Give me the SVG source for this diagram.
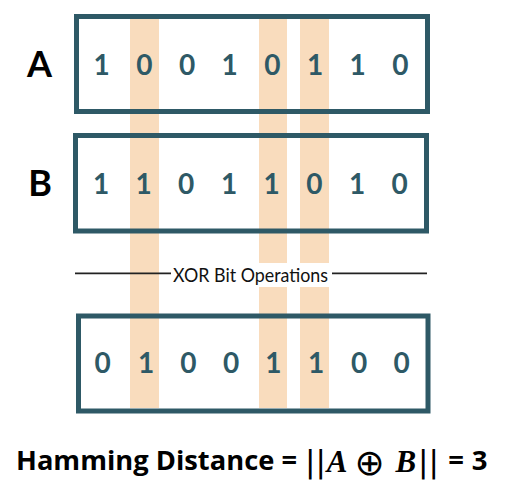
<svg xmlns="http://www.w3.org/2000/svg" width="507" height="487" viewBox="0 0 507 487">
<style>
.box{fill:none;stroke:#2E5966;stroke-width:5}
.bar{fill:#F9DCBD}
.bit{font-family:Lato,"Open Sans",sans-serif;font-weight:bold;font-size:28px;fill:#2E5966;text-anchor:middle}
.lbl{font-family:Lato,"Liberation Sans",sans-serif;font-weight:bold;font-size:36px;fill:#000;text-anchor:middle}
.sans{font-family:"Open Sans",Lato,sans-serif;font-weight:bold;font-size:27.5px;fill:#000;text-anchor:middle}
.math{font-family:"Liberation Serif","DejaVu Serif",serif;font-weight:bold;font-style:italic;font-size:31px;fill:#000;text-anchor:middle}
.sym{font-family:"DejaVu Sans",sans-serif;fill:#000;text-anchor:middle}
</style>
<rect width="507" height="487" fill="#fff"/>
<g id="highlights">
<rect class="bar" x="130" y="19" width="29" height="389"/>
<rect class="bar" x="259" y="19" width="28" height="389"/>
<rect class="bar" x="300" y="19" width="29" height="389"/>
</g>
<g id="connectors">
<line x1="75" y1="273.3" x2="427" y2="273.3" stroke="#222" stroke-width="1.8"/>
<rect x="171" y="263" width="161" height="24" fill="#fff"/>
<text x="250.5" y="281.5" font-family="Lato,'Open Sans',sans-serif" font-size="19" fill="#111" text-anchor="middle" textLength="155" lengthAdjust="spacingAndGlyphs">XOR Bit Operations</text>
</g>
<g id="node-A">
<text class="lbl" x="39.5" y="77.3">A</text>
<rect class="box" x="76.5" y="16.5" width="351" height="95"/>
<text class="bit" y="74.5"><tspan x="101.7">1</tspan><tspan x="144.3">0</tspan><tspan x="187">0</tspan><tspan x="229.7">1</tspan><tspan x="272.3">0</tspan><tspan x="315">1</tspan><tspan x="357.7">1</tspan><tspan x="400.3">0</tspan></text>
</g>
<g id="node-B">
<text class="lbl" x="40" y="196">B</text>
<rect class="box" x="75.5" y="135.5" width="351" height="95.5"/>
<text class="bit" y="194"><tspan x="101">1</tspan><tspan x="143.5">1</tspan><tspan x="186">0</tspan><tspan x="229">1</tspan><tspan x="271.7">1</tspan><tspan x="314.3">0</tspan><tspan x="357">1</tspan><tspan x="399.7">0</tspan></text>
</g>
<g id="node-result">
<rect class="box" x="78.5" y="316" width="349.5" height="95"/>
<text class="bit" y="373.2"><tspan x="102.7">0</tspan><tspan x="146">1</tspan><tspan x="188.3">0</tspan><tspan x="231">0</tspan><tspan x="273.3">1</tspan><tspan x="316">1</tspan><tspan x="359">0</tspan><tspan x="401.7">0</tspan></text>
</g>
<g id="formula">
<text class="sans" x="16" y="470" textLength="281" lengthAdjust="spacingAndGlyphs" style="text-anchor:start">Hamming Distance =</text>
<text class="sym" x="315.5" y="472" font-size="31">||</text>
<text class="math" x="337" y="472">A</text>
<text class="sym" x="369.5" y="475" font-size="36">⊕</text>
<text class="math" x="405.8" y="472">B</text>
<text class="sym" x="428.5" y="472" font-size="31">||</text>
<text class="sans" x="456" y="470">=</text>
<text class="sans" x="479.5" y="470">3</text>
</g>
</svg>
